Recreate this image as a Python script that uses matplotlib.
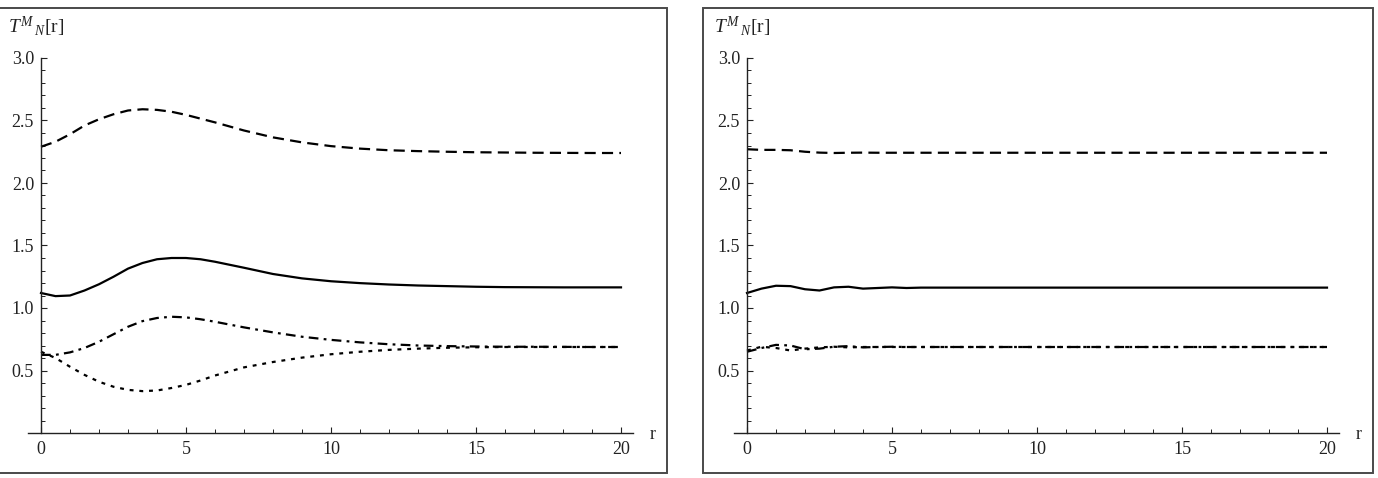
#!/usr/bin/env python3
"""Two-panel T^M_N[r] profile plot, Mathematica style."""

import matplotlib
matplotlib.use('Agg')
import matplotlib.pyplot as plt
import matplotlib.patches as mpatches
from matplotlib.ticker import FixedLocator

plt.rcParams['font.family'] = ['Liberation Serif', 'DejaVu Serif']
plt.rcParams['mathtext.fontset'] = 'custom'
plt.rcParams['mathtext.rm'] = 'Liberation Serif'
plt.rcParams['mathtext.it'] = 'Liberation Serif:italic'
plt.rcParams['lines.scale_dashes'] = False

# ── data ─────────────────────────────────────────────────────────────────
r_grid = [0, 0.5, 1, 1.5, 2, 2.5, 3, 3.5, 4, 4.5, 5, 5.5, 6,
          7, 8, 9, 10, 11, 12, 13, 14, 15, 16, 17, 18, 19, 20]

left_dashed = [2.29, 2.33, 2.39, 2.46, 2.51, 2.55, 2.58, 2.59, 2.585, 2.57, 2.545, 2.515, 2.485,
               2.42, 2.365, 2.325, 2.295, 2.275, 2.262, 2.255, 2.25, 2.246, 2.244, 2.242, 2.241, 2.24, 2.24]
left_solid = [1.12, 1.095, 1.10, 1.14, 1.19, 1.25, 1.315, 1.36, 1.39, 1.40, 1.40, 1.39, 1.37,
              1.322, 1.272, 1.237, 1.214, 1.199, 1.188, 1.18, 1.175, 1.17, 1.167, 1.166, 1.165, 1.165, 1.165]
left_dashdot = [0.625, 0.625, 0.645, 0.68, 0.73, 0.79, 0.85, 0.895, 0.92, 0.93, 0.925, 0.91, 0.89,
                0.845, 0.805, 0.77, 0.745, 0.725, 0.71, 0.70, 0.695, 0.692, 0.69, 0.69, 0.689, 0.688, 0.688]
left_dotted = [0.65, 0.60, 0.53, 0.465, 0.41, 0.37, 0.345, 0.335, 0.34, 0.36, 0.385, 0.42, 0.46,
               0.525, 0.568, 0.603, 0.63, 0.65, 0.665, 0.675, 0.682, 0.686, 0.688, 0.688, 0.688, 0.688, 0.688]

right_dashed = [2.27, 2.265, 2.265, 2.262, 2.25, 2.243, 2.24, 2.242, 2.243, 2.242, 2.242, 2.242, 2.242,
                2.242, 2.242, 2.242, 2.242, 2.242, 2.242, 2.242, 2.242, 2.242, 2.242, 2.242, 2.242, 2.242, 2.242]
right_solid = [1.12, 1.155, 1.178, 1.175, 1.15, 1.14, 1.165, 1.17, 1.155, 1.16, 1.165, 1.16, 1.163,
               1.163, 1.163, 1.163, 1.163, 1.163, 1.163, 1.163, 1.163, 1.163, 1.163, 1.163, 1.163, 1.163, 1.163]
right_dashdot = [0.65, 0.68, 0.705, 0.70, 0.67, 0.675, 0.69, 0.695, 0.685, 0.688, 0.69, 0.688, 0.688,
                 0.688, 0.688, 0.688, 0.688, 0.688, 0.688, 0.688, 0.688, 0.688, 0.688, 0.688, 0.688, 0.688, 0.688]
right_dotted = [0.66, 0.69, 0.68, 0.66, 0.675, 0.685, 0.69, 0.685, 0.688, 0.688, 0.688, 0.688, 0.688,
                0.688, 0.688, 0.688, 0.688, 0.688, 0.688, 0.688, 0.688, 0.688, 0.688, 0.688, 0.688, 0.688, 0.688]

x_major = [0, 5, 10, 15, 20]
x_minor = [1, 2, 3, 4, 6, 7, 8, 9, 11, 12, 13, 14, 16, 17, 18, 19]
y_major = [0.5, 1.0, 1.5, 2.0, 2.5, 3.0]
y_minor = [0.1, 0.2, 0.3, 0.4, 0.6, 0.7, 0.8, 0.9, 1.1, 1.2, 1.3, 1.4, 1.6, 1.7, 1.8, 1.9,
           2.1, 2.2, 2.3, 2.4, 2.6, 2.7, 2.8, 2.9]
y_label = r'$T^{M}\,$${}_{N}$[r]'

# ── styles ───────────────────────────────────────────────────────────────
LW = 1.6
FS = 13
STYLES = {
    'dashed': dict(linestyle=(0, (8.0, 4.5))),
    'solid': dict(linestyle='-'),
    'dashdot': dict(linestyle=(0, (7.0, 3.8, 2.0, 3.8))),
    'dotted': dict(linestyle=(0, (2.8, 4.2))),
}
AX_COLOR = '#222222'
TXT_COLOR = '#222222'
FRAME_COLOR = '#4a4a4a'


def style_axes(ax):
    ax.set_xlim(-1, 21.5)
    ax.set_ylim(-0.3, 3.2)
    for side in ('top', 'right'):
        ax.spines[side].set_visible(False)
    ax.spines['left'].set_position(('data', 0))
    ax.spines['bottom'].set_position(('data', 0))
    ax.spines['left'].set_bounds(0, 3.0)
    ax.spines['bottom'].set_bounds(-0.45, 20.4)
    for side in ('left', 'bottom'):
        ax.spines[side].set_linewidth(1.0)
        ax.spines[side].set_color(AX_COLOR)
    ax.xaxis.set_major_locator(FixedLocator(x_major))
    ax.xaxis.set_minor_locator(FixedLocator(x_minor))
    ax.yaxis.set_major_locator(FixedLocator(y_major))
    ax.yaxis.set_minor_locator(FixedLocator(y_minor))
    ax.set_xticklabels([str(v) for v in x_major])
    ax.set_yticklabels([f'{v:.1f}' for v in y_major])
    ax.tick_params(which='both', direction='in', color=AX_COLOR, labelsize=FS,
                   labelcolor=TXT_COLOR)
    ax.tick_params(which='major', length=4.5, width=0.8)
    ax.tick_params(which='minor', length=2.6, width=0.7)
    ax.tick_params(axis='x', which='major', pad=6)
    ax.tick_params(axis='y', which='major', pad=5)
    ax.patch.set_alpha(0)
    ax.text(21.1, -0.01, 'r', ha='center', va='center', fontsize=FS, color=TXT_COLOR)
    ax.text(-1.14, 3.2, y_label, ha='left', va='baseline', fontsize=FS + 1,
            color=TXT_COLOR, clip_on=False)


def plot_panel(ax, dashed, solid, dashdot, dotted):
    for vals, key in ((dashed, 'dashed'), (solid, 'solid'),
                      (dashdot, 'dashdot'), (dotted, 'dotted')):
        ax.plot(r_grid, vals, color='black', linewidth=LW, **STYLES[key])
    style_axes(ax)


W, H = 1378, 478
fig = plt.figure(figsize=(W / 100, H / 100), dpi=100)

# panel frames
for x0, x1 in ((-10, 667), (703, 1373)):
    fig.patches.append(mpatches.Rectangle(
        (x0 / W, (H - 473) / H), (x1 - x0) / W, (473 - 8) / H,
        transform=fig.transFigure, fill=False, edgecolor=FRAME_COLOR, linewidth=1.4))

ax_w, ax_h = 652.5 / W, 437.5 / H
ax_b = (H - 470.5) / H
ax1 = fig.add_axes([12 / W, ax_b, ax_w, ax_h])
ax2 = fig.add_axes([718 / W, ax_b, ax_w, ax_h])

plot_panel(ax1, left_dashed, left_solid, left_dashdot, left_dotted)
plot_panel(ax2, right_dashed, right_solid, right_dashdot, right_dotted)

fig.savefig('out.png', dpi=100)
plt.close(fig)
